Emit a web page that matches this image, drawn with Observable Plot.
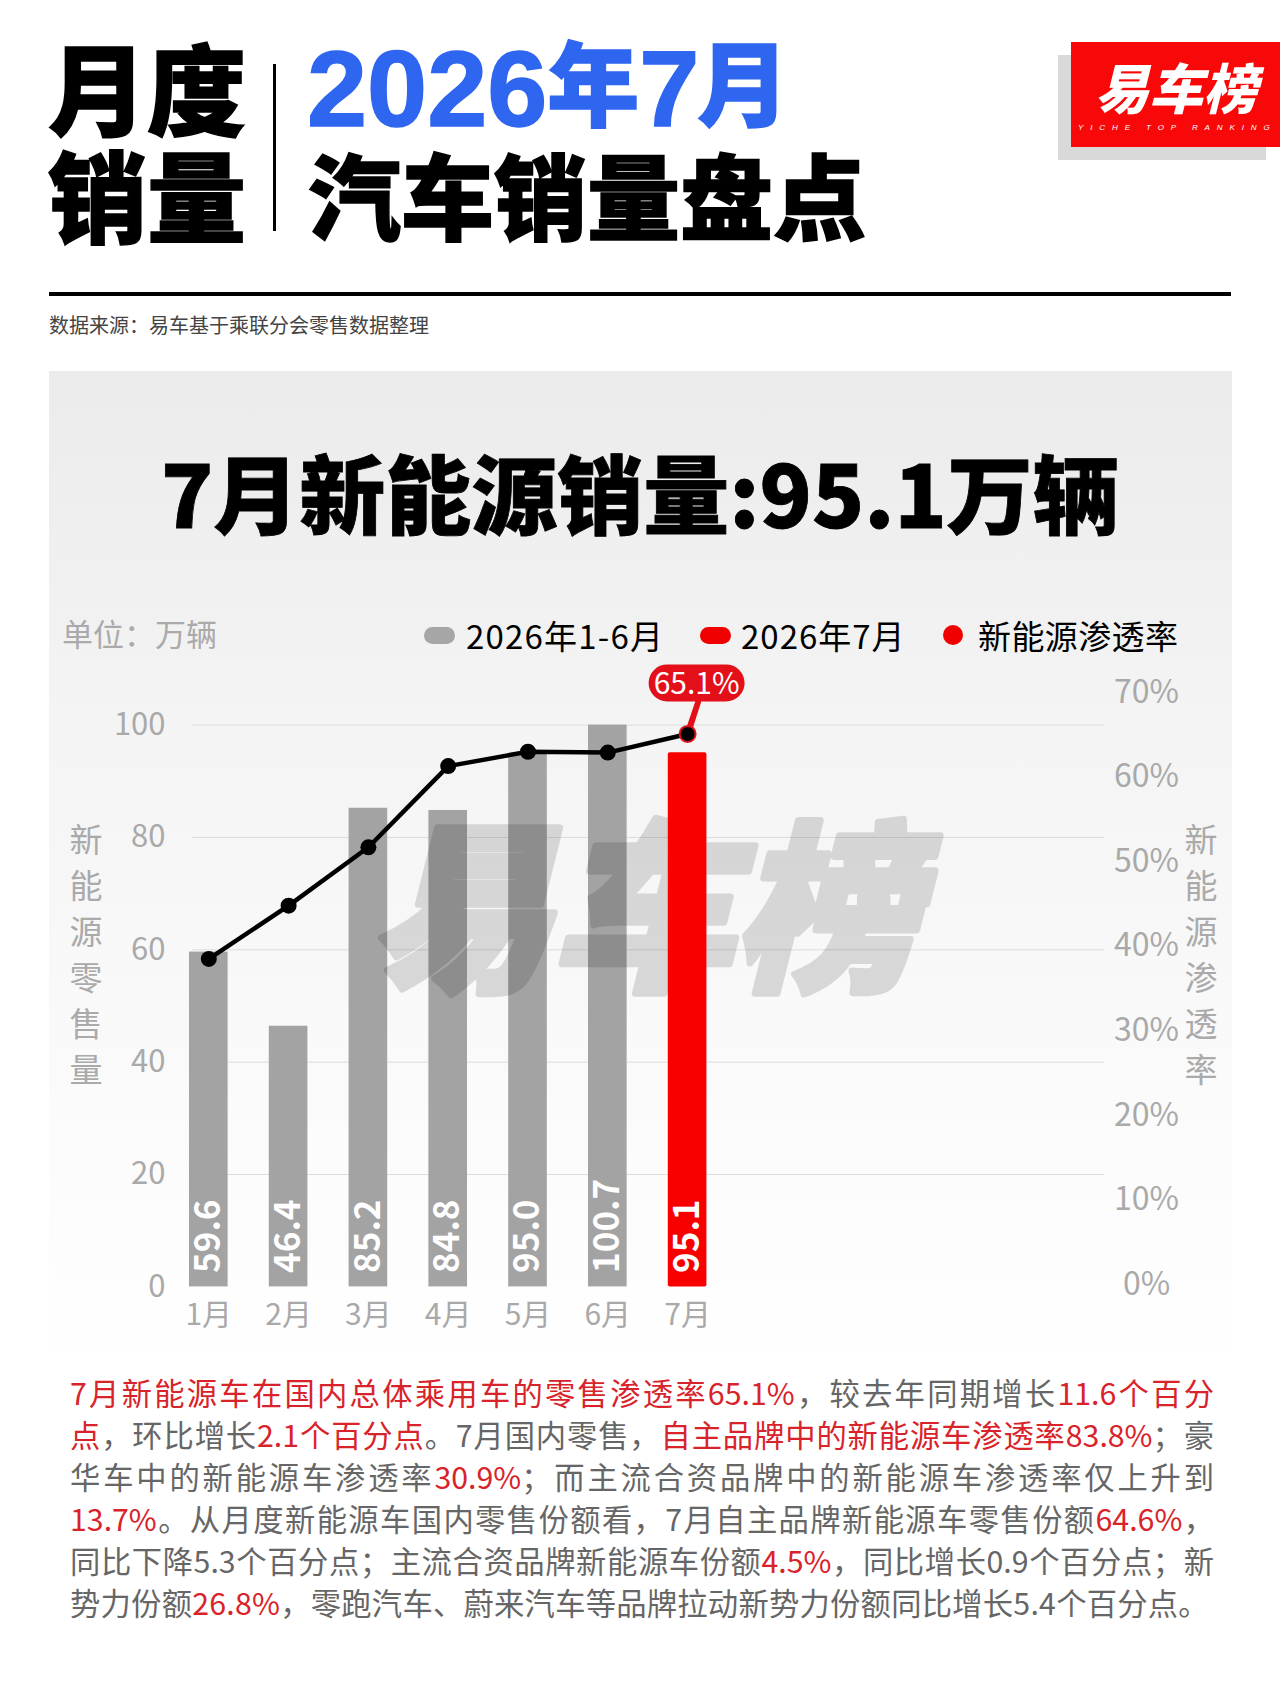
<!DOCTYPE html>
<html lang="zh"><head><meta charset="utf-8">
<script src="https://cdn.jsdelivr.net/npm/d3@7"></script>
<script src="https://cdn.jsdelivr.net/npm/@observablehq/plot@0.6"></script>
<style>
html,body{margin:0;padding:0;background:#fff}
body{position:relative;width:1280px;height:1706px;overflow:hidden;font-family:"Noto Sans CJK SC","Noto Sans",sans-serif}
.a{position:absolute;white-space:nowrap;line-height:1}
.h{font-weight:900;color:#000;-webkit-text-stroke:1.5px #000}
#panel{position:absolute;left:49px;top:371px;width:1183px;height:1000px;background:linear-gradient(#ebebeb,#f4f4f4 35%,#fbfbfb 75%,#fff)}
#chart{position:absolute;left:0;top:600px}
.vt{position:absolute;width:40px;text-align:center;font-size:33px;line-height:46px;color:#aaa;top:815px}
.leg{position:absolute;top:615px;font-size:33px;line-height:40px;color:#000;white-space:nowrap}
.sw{position:absolute}
.ln{position:absolute;left:70px;width:1144px;font-size:30.3px;line-height:42px;height:42px;color:#666;text-align:justify;text-align-last:justify}
.ln.last{text-align-last:left;letter-spacing:.25px}
.ln b{font-weight:400;color:#d9232a}
.t{font-family:'Noto Sans CJK SC';font-size:92px;position:relative;top:-7px}
</style></head><body>
<div class="a h" style="left:48px;top:36px;font-size:99px">月度</div>
<div class="a h" style="left:48px;top:143px;font-size:99px">销量</div>
<div class="a" style="left:273px;top:64px;width:2.5px;height:167px;background:#000"></div>
<div class="a" style="left:307px;top:35px;font-size:108px;font-weight:900;color:#2f66f0;-webkit-text-stroke:1.5px #2f66f0;font-family:'Liberation Sans','Noto Sans CJK SC'">2026<span class="t">年</span><span style="letter-spacing:-2px">7</span><span class="t">月</span></div>
<div class="a h" style="left:308px;top:146px;font-size:93px">汽车销量盘点</div>
<div class="a" style="left:1058px;top:55px;width:208px;height:105px;background:#d9d9d9"></div>
<div class="a" style="left:1071px;top:42px;width:209px;height:105px;background:#f80808"></div>
<div class="a" style="left:1095px;top:59px;font-size:54px;font-weight:900;font-style:italic;color:#fff">易车榜</div>
<div class="a" style="left:1078px;top:124px;font-size:8px;font-style:italic;letter-spacing:6.9px;color:#fff;font-family:'Liberation Sans'">YICHE TOP RANKING</div>
<div class="a" style="left:49px;top:292px;width:1182px;height:4px;background:#000"></div>
<div class="a" style="left:49px;top:315px;font-size:20px;color:#444">数据来源&#xFF1A;易车基于乘联分会零售数据整理</div>
<div id="panel"></div>
<div class="a" style="left:161px;top:448px;font-size:86px;font-weight:900;color:#000;-webkit-text-stroke:.8px #000">7月新能源销量:95.1万辆</div>
<div id="chart"></div>
<div class="a" style="left:62px;top:617px;font-size:31px;color:#aaa">单位&#xFF1A;万辆</div>
<div class="sw" style="left:424px;top:627px;width:31px;height:17px;border-radius:9px;background:#a6a6a6"></div>
<div class="leg" style="left:466px;letter-spacing:1.2px">2026年1-6月</div>
<div class="sw" style="left:700px;top:627px;width:31px;height:17px;border-radius:9px;background:#f00000"></div>
<div class="leg" style="left:741px;letter-spacing:1px">2026年7月</div>
<div class="sw" style="left:943px;top:625px;width:20px;height:20px;border-radius:50%;background:#f00000"></div>
<div class="leg" style="left:978px;letter-spacing:.4px">新能源渗透率</div>
<div class="vt" style="left:66px">新<br>能<br>源<br>零<br>售<br>量</div>
<div class="vt" style="left:1181px">新<br>能<br>源<br>渗<br>透<br>率</div>
<div id="body"></div>
<script>
const months = ["1月","2月","3月","4月","5月","6月","7月"];
const blankSlots = ["8月","9月","10月","11月","12月"];
const sales = [59.6,46.4,85.2,84.8,95.0,100.7,95.1];
const rates = [38.5,44.8,51.7,61.3,63.0,62.9,65.1];
const salesTicks = [0,20,40,60,80,100];
const rateTicks = [0,10,20,30,40,50,60,70];
const calloutLabel = "65.1%";
const watermark = "易车榜";
const paragraph = [
 [["r","7月新能源车在国内总体乘用车的零售渗透率65.1%"],["g","\uFF0C较去年同期增长"],["r","11.6个百分"]],
 [["r","点"],["g","\uFF0C环比增长"],["r","2.1个百分点"],["g","。7月国内零售\uFF0C"],["r","自主品牌中的新能源车渗透率83.8%"],["g","\uFF1B豪"]],
 [["g","华车中的新能源车渗透率"],["r","30.9%"],["g","\uFF1B而主流合资品牌中的新能源车渗透率仅上升到"]],
 [["r","13.7%"],["g","。从月度新能源车国内零售份额看\uFF0C7月自主品牌新能源车零售份额"],["r","64.6%"],["g","\uFF0C"]],
 [["g","同比下降5.3个百分点\uFF1B主流合资品牌新能源车份额"],["r","4.5%"],["g","\uFF0C同比增长0.9个百分点\uFF1B新"]],
 [["g","势力份额"],["r","26.8%"],["g","\uFF0C零跑汽车、蔚来汽车等品牌拉动新势力份额同比增长5.4个百分点。"]]
];

const bodyEl = document.getElementById("body");
paragraph.forEach((line,i)=>{
  const d=document.createElement("div");
  d.className="ln"+(i===paragraph.length-1?" last":"");
  d.style.top=(1371+i*42)+"px";
  line.forEach(([k,t])=>{const s=document.createElement(k==="r"?"b":"span");s.textContent=t;d.appendChild(s);});
  bodyEl.appendChild(d);
});

const rows = months.map((m,i)=>({month:m,sales:sales[i],rate:rates[i],latest:i===months.length-1}));
const yTop = d3.max(salesTicks);
const rateToSales = r => r*1.5053+0.427;   // secondary axis mapped onto the primary scale
const pillSymbol = {draw(c){
  // rounded callout above the point, with a tail back to it
  const cx=9,cy=-51,w=48,h=18.5;
  c.moveTo(cx-w+h,cy-h);c.lineTo(cx+w-h,cy-h);
  c.arc(cx+w-h,cy,h,-Math.PI/2,Math.PI/2);
  c.lineTo(cx-w+h,cy+h);
  c.arc(cx-w+h,cy,h,Math.PI/2,Math.PI*1.5);
  c.closePath();
  c.moveTo(-3,-1);c.lineTo(8,cy+h-1);c.lineTo(14,cy+h-1);c.lineTo(3,1);c.closePath();
}};
const grey="#a9a9a9", font="Noto Sans CJK SC";
const latest = rows.filter(d=>d.latest), earlier = rows.filter(d=>!d.latest);
const chart = Plot.plot({
  width:1280,height:760,
  marginLeft:192,marginRight:176,marginTop:124.6,marginBottom:73.6,
  style:{background:"transparent",fontFamily:font,color:grey,overflow:"visible",maxWidth:"none"},
  x:{domain:[...months,...blankSlots],range:[168.4,1126],round:false,paddingInner:.516,paddingOuter:.258,label:null},
  y:{domain:[0,yTop],label:null},
  marks:[
    Plot.ruleY(salesTicks.filter(t=>t>0),{stroke:"#dcdcdc",strokeWidth:1}),
    Plot.barY(earlier,{x:"month",y:d=>Math.min(d.sales,yTop),fill:"#a3a3a3"}),
    Plot.text([watermark],{frameAnchor:"middle",dx:-6,dy:-88,fontSize:182,fontWeight:900,fontStyle:"italic",fill:"#000",stroke:"#000",strokeWidth:7,opacity:.13}),
    Plot.barY(latest,{x:"month",y:"sales",fill:"#f80000",rx:2}),
    Plot.axisY({ticks:salesTicks,tickSize:0,tickPadding:27,fontSize:31,color:grey,label:null}),
    Plot.axisX(months,{tickSize:0,tickPadding:17,fontSize:30,color:grey,label:null}),
    Plot.text(rateTicks,{frameAnchor:"right",dx:42,y:r=>rateToSales(r),text:r=>r+"%",textAnchor:"middle",fontSize:32,fill:grey}),
    Plot.text(rows,{x:"month",y:()=>0,text:d=>d.sales.toFixed(1),rotate:-90,textAnchor:"start",dy:-14,fontSize:35,fontWeight:700,fill:"#fff"}),
    Plot.dot(latest,{x:"month",y:d=>rateToSales(d.rate),symbol:pillSymbol,r:10,fill:"#e3101a",stroke:"none"}),
    Plot.line(rows,{x:"month",y:d=>rateToSales(d.rate),stroke:"#000",strokeWidth:4.5,curve:"linear"}),
    Plot.dot(rows,{x:"month",y:d=>rateToSales(d.rate),r:8,fill:"#000",stroke:d=>d.latest?"#e3101a":"#000",strokeWidth:d=>d.latest?2:0}),
    Plot.text(latest,{x:"month",y:d=>rateToSales(d.rate),text:()=>calloutLabel,dx:9,dy:-50,fontSize:30,fill:"#fff"})
  ]
});
document.getElementById("chart").appendChild(chart);
</script>
</body></html>
